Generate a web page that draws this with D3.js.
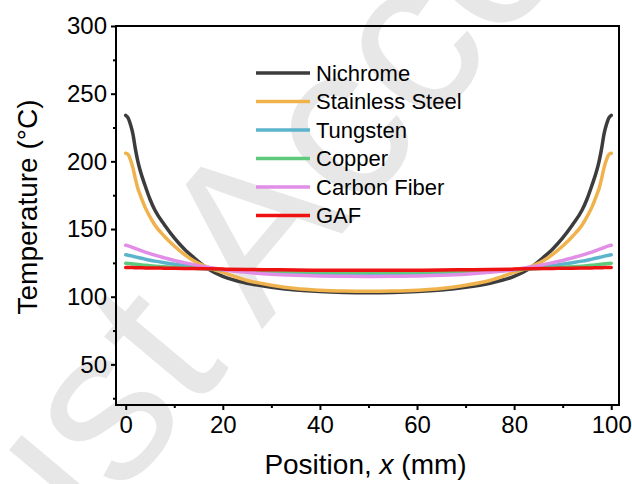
<!DOCTYPE html>
<html><head><meta charset="utf-8">
<script src="https://cdn.jsdelivr.net/npm/d3@7/dist/d3.min.js"></script>
<style>body{margin:0;background:#fff;} svg{display:block;}</style>
</head><body>
<svg id="c" width="632" height="484"></svg>
<script>
const xPositions = [0,0.5,1,1.5,2,2.5,3,4,5,6,8,10,12,14,17,20,25,30,35,40,45,50,55,60,65,70,75,80,83,86,88,90,92,94,95,96,97,97.5,98,98.5,99,99.5,100];
const nichrome = [234,232,227,220,209,200,193,182,172,164,153,143.5,135.5,129,120.5,115,110,107,105,103.8,103.2,103,103.2,103.8,105,107,110,115,120.5,129,135.5,143.5,153,164,172,182,193,200,209,220,227,232,234];
const stainless = [206,205,201,195,187,180,175,166,159,153,144.5,137.5,131.5,126.5,121.5,118,112,108.5,106,104.8,104.2,104,104.2,104.8,106,108.5,112,118,121.5,126.5,131.5,137.5,144.5,153,159,166,175,180,187,195,201,205,206];
const tungsten = [131,130.7,130.3,129.9,129.4,129,128.6,127.8,127,126.3,125.1,124,123,122.2,121,120,118.8,117.8,117.2,116.8,116.6,116.5,116.6,116.8,117.2,117.8,118.8,120,121,122.2,123,124,125.1,126.3,127,127.8,128.6,129,129.4,129.9,130.3,130.7,131];
const copper = [124.7,124.6,124.4,124.2,124,123.8,123.6,123.2,122.9,122.6,122.1,121.7,121.3,121,120.5,120,119.3,118.8,118.4,118.2,118.05,118,118.05,118.2,118.4,118.8,119.3,120,120.5,121,121.3,121.7,122.1,122.6,122.9,123.2,123.6,123.8,124,124.2,124.4,124.6,124.7];
const carbonFiber = [138,137.6,137,136.3,135.6,135,134.3,133,131.8,130.7,128.7,126.8,125.2,123.7,121.7,120,118,116.6,115.8,115.3,115.1,115,115.1,115.3,115.8,116.6,118,120,121.7,123.7,125.2,126.8,128.7,130.7,131.8,133,134.3,135,135.6,136.3,137,137.6,138];
const gaf = [121.5,121.5,121.5,121.5,121.4,121.4,121.4,121.3,121.3,121.2,121.1,121,120.9,120.8,120.6,120.4,120.1,119.9,119.7,119.6,119.5,119.5,119.5,119.6,119.7,119.9,120.1,120.4,120.6,120.8,120.9,121,121.1,121.2,121.3,121.3,121.4,121.4,121.4,121.5,121.5,121.5,121.5];

const seriesNames = ["Nichrome","Stainless Steel","Tungsten","Copper","Carbon Fiber","GAF"];
const seriesValues = [nichrome, stainless, tungsten, copper, carbonFiber, gaf];
const seriesColors = ["#3c3c3c","#f0b24c","#5cb4cc","#5dc97a","#e08ee6","#ee1111"];
const xTicks = [0,20,40,60,80,100];
const xMinorTicks = [10,30,50,70,90];
const yTicks = [50,100,150,200,250,300];
const yMinorTicks = [25,75,125,175,225,275];

const svg = d3.select("#c");
const L=116, R=619, T=26, B=405;
const x = d3.scaleLinear().domain([-2,101.6]).range([L,R]);
const y = d3.scaleLinear().domain([20,300]).range([B,T]);
const font = "Liberation Sans, Arial, sans-serif";

// watermark
svg.append("text").attr("transform","translate(-29,676) rotate(-50)")
  .style("font-family",font).style("font-size","220px")
  .style("fill","#e7e7e7").text("Just Accepted");

// lines
const line = d3.line().x((d,i)=>x(xPositions[i])).y(d=>y(d)).curve(d3.curveMonotoneX);
seriesValues.forEach((vals,k)=>{
  svg.append("path").attr("d", line(vals)).attr("fill","none")
    .attr("stroke", seriesColors[k]).attr("stroke-width",3.5).attr("stroke-linecap","round");
});

// frame
svg.append("rect").attr("x",L).attr("y",T).attr("width",R-L).attr("height",B-T)
  .attr("fill","none").attr("stroke","#000").attr("stroke-width",2);

// x axis
const xAxis = svg.append("g").attr("transform",`translate(0,${B})`)
  .call(d3.axisBottom(x).tickValues(xTicks).tickSize(5).tickPadding(6).tickFormat(d3.format("d")));
xAxis.select(".domain").remove();
xAxis.selectAll(".tick line").attr("stroke-width",2);
xAxis.selectAll("text").style("font-family",font).style("font-size","24px").attr("fill","#000");
svg.append("g").attr("transform",`translate(0,${B})`)
  .call(d3.axisBottom(x).tickValues(xMinorTicks).tickSize(3).tickFormat(""))
  .call(g=>{g.select(".domain").remove(); g.selectAll(".tick line").attr("stroke-width",2);});

// y axis
const yAxis = svg.append("g").attr("transform",`translate(${L},0)`)
  .call(d3.axisLeft(y).tickValues(yTicks).tickSize(5).tickPadding(4).tickFormat(d3.format("d")));
yAxis.select(".domain").remove();
yAxis.selectAll(".tick line").attr("stroke-width",2);
yAxis.selectAll("text").style("font-family",font).style("font-size","24px").attr("fill","#000");
svg.append("g").attr("transform",`translate(${L},0)`)
  .call(d3.axisLeft(y).tickValues(yMinorTicks).tickSize(3).tickFormat(""))
  .call(g=>{g.select(".domain").remove(); g.selectAll(".tick line").attr("stroke-width",2);});

// axis titles
const xt = svg.append("text").attr("x",(L+R)/2-2).attr("y",474).attr("text-anchor","middle")
  .style("font-family",font).style("font-size","28px").attr("fill","#000");
xt.append("tspan").text("Position, ");
xt.append("tspan").style("font-style","italic").text("x");
xt.append("tspan").text(" (mm)");

svg.append("text").attr("transform","translate(37,207) rotate(-90)").attr("text-anchor","middle")
  .style("font-family",font).style("font-size","28px").attr("fill","#000").text("Temperature (°C)");

// legend
const leg = svg.append("g");
seriesNames.forEach((n,k)=>{
  const yy = 73 + k*28.5;
  leg.append("line").attr("x1",256).attr("x2",310).attr("y1",yy).attr("y2",yy)
    .attr("stroke",seriesColors[k]).attr("stroke-width",3.5);
  leg.append("text").attr("x",316).attr("y",yy).attr("dominant-baseline","central")
    .style("font-family",font).style("font-size","22px").attr("fill","#000").text(n);
});
</script>
</body></html>
